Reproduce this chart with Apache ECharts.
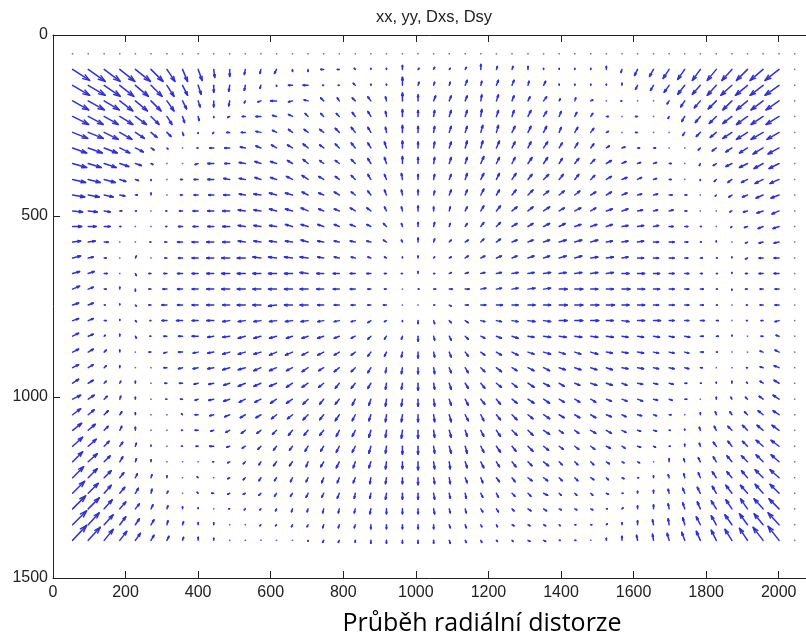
<!DOCTYPE html>
<html><head><meta charset="utf-8">
<script src="https://cdn.jsdelivr.net/npm/echarts@6/dist/echarts.min.js"></script>
</head>
<body style="margin:0;background:#fff">
<div id="chart" style="width:806px;height:637px"></div>
<script>
// grid point positions (data units): 47 columns, 32 rows
const xs = [54,97,141,184,227,270,314,357,400,443,487,530,573,616,660,703,746,789,833,876,919,963,1006,1049,1092,1136,1179,1222,1265,1309,1352,1395,1438,1482,1525,1568,1611,1655,1698,1741,1784,1828,1871,1914,1957,2001,2044];
const ys = [52,95,139,182,225,269,312,355,399,442,486,529,572,616,659,702,746,789,832,876,919,962,1006,1049,1092,1136,1179,1223,1266,1309,1353,1396];
const xTicks = [0,200,400,600,800,1000,1200,1400,1600,1800,2000];
const yTicks = [0,500,1000,1500];
// Dxs (rows 1..31, columns 0..45)
const Dxs = [
[17,17,16,15,15,12,8,5,4,1,0,-1,-1,-2,0,0,-3,-2,-1,0,0,0,1,1,1,1,0,1,1,0,0,0,0,0,0,-1,-3,-4,-6,-7,-8,-9,-10,-11,-13,-14],
[17,17,16,14,13,11,7,5,3,0,-1,-1,-1,0,-4,-5,-1,-1,-2,0,0,0,1,1,1,2,1,2,2,1,2,0,0,0,0,0,-2,-3,-5,-7,-8,-9,-11,-12,-13,-14],
[16,16,15,13,12,10,7,4,2,0,-1,-1,-3,-6,-4,-4,-3,-2,-3,-3,-1,0,0,2,2,2,1,2,2,2,3,1,1,2,0,-1,0,0,-2,-4,-6,-8,-9,-11,-12,-13],
[16,15,14,13,11,8,5,2,1,0,-2,-3,-5,-4,-4,-3,-3,-3,-3,-3,-1,0,0,1,2,2,1,2,2,3,3,2,2,2,2,0,-2,0,-1,-3,-5,-7,-9,-11,-12,-13],
[15,15,14,12,9,6,4,1,0,-1,-3,-4,-5,-4,-4,-4,-4,-4,-4,-3,-1,0,0,1,2,2,2,2,3,3,3,2,3,3,2,0,-2,0,0,-2,-4,-6,-9,-11,-12,-12],
[14,14,13,10,8,3,1,0,-1,-4,-5,-5,-5,-5,-5,-5,-4,-4,-4,-3,-2,0,0,1,2,2,2,3,3,3,4,3,3,3,3,3,2,2,0,0,-2,-4,-6,-8,-10,-11],
[14,13,12,9,6,2,0,0,-3,-6,-5,-6,-6,-6,-5,-5,-4,-4,-4,-3,-2,0,0,1,2,2,3,3,3,4,4,3,4,4,5,4,3,3,2,0,-1,-3,-6,-8,-9,-10],
[13,12,11,6,3,0,0,-2,-4,-6,-6,-6,-6,-6,-6,-6,-5,-4,-4,-3,-2,-1,0,1,2,2,3,3,4,4,5,4,4,4,5,5,4,3,2,0,0,-2,-4,-6,-8,-9],
[12,11,9,5,2,0,0,-2,-4,-5,-6,-6,-7,-7,-7,-6,-5,-5,-4,-3,-2,-1,0,1,2,2,3,3,4,5,5,5,5,5,5,5,4,4,3,2,0,-1,-3,-5,-7,-8],
[10,9,6,2,1,0,-1,-3,-5,-6,-7,-7,-7,-7,-7,-7,-5,-5,-5,-4,-2,-1,0,0,1,2,3,4,5,5,6,5,6,5,6,6,5,4,4,2,0,0,-2,-4,-6,-7],
[9,8,6,1,0,0,-1,-4,-5,-6,-7,-7,-7,-7,-7,-7,-6,-5,-5,-4,-3,-1,0,1,1,2,3,4,5,5,6,6,6,6,6,6,6,5,4,3,1,0,-1,-3,-5,-6],
[8,7,4,0,0,-1,-2,-5,-6,-7,-7,-7,-7,-7,-7,-7,-6,-5,-5,-4,-3,-1,0,1,2,3,3,4,5,5,6,7,7,7,6,6,6,5,5,3,1,0,0,-2,-4,-5],
[8,5,2,0,1,0,-2,-4,-6,-7,-8,-8,-8,-8,-8,-8,-6,-5,-4,-3,-2,0,0,1,2,3,4,5,5,6,6,7,7,7,7,6,6,5,5,3,2,1,0,-2,-4,-5],
[7,6,3,0,1,-2,-3,-5,-6,-7,-8,-8,-8,-8,-8,-8,-7,-6,-5,-4,-2,-1,0,1,2,3,4,5,6,6,7,7,7,7,7,7,7,6,5,4,2,1,0,-2,-4,-5],
[7,5,2,0,0,-2,-4,-5,-6,-7,-8,-8,-8,-8,-8,-8,-7,-6,-5,-3,-2,0,1,2,3,4,5,5,6,7,7,8,8,7,7,8,7,6,5,4,3,1,0,-2,-3,-4],
[6,5,1,0,1,-2,-5,-5,-6,-7,-7,-8,-8,-8,-8,-8,-6,-5,-4,-3,-3,0,0,1,2,3,5,6,6,7,7,8,8,8,8,7,7,5,5,4,3,1,0,-1,-3,-4],
[6,5,2,0,1,-1,-5,-6,-6,-7,-7,-7,-7,-7,-7,-7,-6,-5,-4,-3,-2,0,0,1,2,3,4,5,6,7,7,8,8,8,7,7,7,7,5,4,4,2,0,-1,-2,-4],
[6,5,1,0,1,-1,-3,-4,-6,-6,-7,-7,-7,-7,-6,-6,-6,-5,-4,-3,-2,-1,0,1,2,3,4,5,6,6,7,7,7,7,7,6,6,6,5,5,3,2,0,0,-2,-3],
[6,5,2,0,0,-2,-3,-4,-5,-6,-7,-7,-7,-7,-7,-6,-6,-5,-4,-3,-2,-1,0,1,2,3,4,5,6,6,7,6,6,7,6,6,6,5,5,4,3,1,0,0,-3,-4],
[6,5,2,0,0,0,-3,-4,-5,-6,-7,-7,-7,-7,-6,-6,-5,-5,-4,-3,-1,-1,0,1,2,3,4,5,5,6,6,6,6,6,6,6,6,5,5,4,2,0,0,-1,-3,-5],
[6,5,2,1,0,0,-2,-3,-4,-5,-6,-7,-7,-7,-6,-6,-5,-4,-4,-3,-1,-1,0,1,2,3,4,5,5,6,6,5,5,6,6,5,5,4,4,2,1,0,0,-1,-3,-5],
[8,6,3,1,0,0,-1,-2,-3,-5,-6,-6,-6,-6,-6,-5,-4,-4,-3,-2,-1,-1,0,1,2,3,4,4,5,6,6,5,5,5,5,5,5,4,3,2,0,0,-1,-2,-4,-6],
[8,6,4,2,0,0,0,-1,-3,-4,-5,-5,-5,-5,-5,-5,-4,-4,-3,-2,-1,-1,0,1,2,3,3,4,5,5,6,5,5,5,5,4,4,3,2,0,0,-1,-2,-3,-5,-6],
[9,7,4,2,0,0,0,-1,-3,-3,-4,-4,-4,-4,-4,-4,-4,-3,-3,-2,-1,-1,0,1,2,2,3,4,5,5,6,4,4,5,5,4,3,3,1,0,-1,-2,-4,-5,-6,-7],
[10,8,5,3,1,0,0,-1,-2,-4,-3,-3,-3,-3,-3,-3,-3,-3,-3,-2,-1,0,0,1,2,2,3,4,4,5,5,4,4,4,4,3,3,2,1,0,-1,-3,-4,-5,-7,-8],
[10,9,6,3,1,0,0,0,0,-1,-2,-2,-2,-3,-3,-2,-3,-3,-2,-2,-1,0,0,1,1,2,3,3,4,4,5,3,3,3,3,2,2,0,0,-1,-2,-3,-5,-6,-7,-8],
[11,9,7,4,2,1,0,0,-1,0,-2,-2,-2,-2,-2,-2,-2,-2,-2,-1,-1,0,0,1,1,2,2,3,3,4,4,3,3,3,2,2,1,0,-1,-1,-2,-4,-5,-6,-8,-9],
[12,10,7,5,3,1,1,0,-1,-2,-2,-2,-2,-2,-2,-2,-2,-2,-1,-1,-1,0,0,1,1,1,2,2,3,3,4,2,2,2,2,1,0,0,-1,-2,-3,-4,-6,-7,-8,-9],
[13,11,8,6,4,2,1,0,0,0,-1,-1,-1,-1,-1,-1,-1,-1,-1,-1,0,0,0,1,1,1,2,2,2,3,3,2,2,2,1,1,0,0,-1,-2,-3,-5,-6,-7,-9,-10],
[14,11,9,6,4,3,1,1,0,0,0,0,-1,-1,-1,-1,-1,-1,-1,0,0,0,0,0,1,1,1,1,2,2,2,1,1,1,1,0,0,-1,-1,-2,-4,-5,-7,-8,-9,-11],
[14,12,9,7,5,3,2,1,0,0,0,0,0,0,0,0,-1,-1,0,0,0,0,0,0,1,1,1,1,1,2,2,1,1,0,0,0,-1,-1,-2,-3,-4,-5,-7,-8,-10,-11]
];
// Dsy (rows 1..31, columns 0..45), positive = downward in the picture
const Dsy = [
[11,12,12,12,12,12,12,12,11,8,7,5,4,4,2,2,0,0,-1,-1,-1,-4,-1,-2,-1,-2,-5,-3,-3,-3,-1,-1,-1,-1,-3,3,6,7,9,10,11,11,11,11,11,11],
[10,10,11,11,11,11,11,10,9,7,6,5,3,1,0,0,0,0,-2,-1,-1,-8,-3,-3,-3,-5,-4,-5,-5,-4,-4,-1,-1,-1,-1,-2,4,5,7,9,9,10,10,10,10,10],
[9,9,9,10,10,10,10,8,6,6,5,2,1,0,1,-1,-3,-3,-3,-4,-4,-8,-6,-5,-5,-5,-6,-6,-5,-4,-4,-2,-3,-1,0,0,0,0,3,6,7,8,9,9,9,9],
[8,8,8,8,8,8,8,6,4,1,1,0,0,-1,-2,-3,-3,-3,-4,-5,-5,-7,-6,-6,-6,-6,-7,-6,-6,-6,-5,-5,-4,-3,0,0,0,0,2,5,6,7,7,8,8,8],
[6,6,7,7,6,5,4,3,1,1,0,0,-1,-2,-3,-3,-3,-4,-5,-5,-5,-7,-6,-6,-6,-6,-7,-7,-6,-6,-6,-5,-5,-4,-1,0,0,0,0,3,4,5,6,7,7,7],
[5,5,5,5,4,2,1,0,0,0,0,-1,-2,-3,-3,-4,-3,-4,-5,-5,-6,-7,-6,-6,-6,-7,-7,-7,-6,-6,-6,-5,-5,-4,-2,-1,0,0,0,0,2,3,4,5,6,6],
[4,4,4,3,2,1,0,0,1,0,0,-1,-2,-2,-3,-4,-3,-3,-4,-5,-6,-7,-6,-6,-6,-6,-7,-6,-6,-6,-6,-5,-5,-4,-3,-2,-1,-1,0,0,2,2,3,4,5,5],
[3,3,3,2,1,1,0,0,0,0,-1,-1,-2,-2,-3,-4,-3,-3,-4,-5,-5,-6,-5,-5,-5,-6,-6,-6,-6,-5,-5,-5,-5,-4,-3,-2,-2,-1,0,0,1,2,3,3,4,4],
[2,2,2,1,0,-2,0,0,0,0,0,-1,-1,-2,-2,-3,-2,-3,-3,-4,-5,-5,-5,-4,-5,-5,-6,-5,-5,-5,-4,-4,-4,-3,-3,-2,-1,-1,0,0,0,1,2,2,3,3],
[1,1,1,0,0,0,0,0,0,0,0,-1,-1,-2,-2,-3,-2,-2,-3,-3,-4,-4,-5,-4,-4,-4,-5,-5,-4,-4,-4,-3,-3,-3,-2,-2,-1,-1,-1,0,0,0,1,1,2,3],
[0,0,0,0,0,0,0,0,0,0,0,-1,-1,-1,-2,-2,-2,-2,-2,-2,-3,-3,-4,-4,-3,-3,-4,-4,-3,-3,-3,-3,-2,-2,-2,-1,-1,-1,0,0,0,0,1,1,2,2],
[-1,-1,0,0,0,0,0,0,0,0,0,-1,-1,-1,-1,-2,-1,-1,-1,-1,-2,-2,-4,-3,-2,-2,-3,-3,-2,-2,-2,-2,-2,-2,-1,-1,-1,0,0,0,0,-1,0,1,1,1],
[-2,-1,0,0,-2,0,0,0,0,0,0,0,-1,-1,-1,-1,-1,-1,-1,-1,-1,-1,-2,-1,-1,-2,-2,-2,-2,-2,-2,-2,-2,-1,-1,-1,0,0,0,0,0,0,-1,1,0,0],
[-2,-2,0,0,2,0,0,0,0,0,0,0,0,0,0,-1,0,0,0,0,0,0,-2,0,-1,-1,-1,-1,-1,-1,-1,-1,-1,-1,-1,0,0,0,0,0,0,0,-1,0,0,0],
[-3,-2,0,-2,2,0,0,0,0,0,0,0,0,0,0,0,0,0,0,0,0,0,0,0,0,0,-1,-1,-1,-1,-1,0,0,0,0,0,0,0,0,0,0,0,1,0,0,0],
[-2,-2,0,-1,1,0,0,0,0,0,0,0,0,1,0,0,0,0,0,0,0,0,0,0,1,0,0,0,0,0,0,0,0,0,0,0,0,0,0,0,0,0,0,0,0,0],
[-2,-2,0,-1,1,0,0,0,0,0,1,1,1,1,1,1,1,1,1,2,1,1,3,3,2,2,1,1,1,1,1,0,0,0,0,1,0,0,0,0,0,0,0,0,0,1],
[-3,-2,-1,-2,2,0,0,0,0,1,1,2,2,2,2,2,2,2,2,3,3,3,5,4,4,3,2,2,2,1,1,1,1,1,1,1,1,1,1,1,0,0,-1,0,0,-1],
[-3,-3,-2,-2,0,0,1,0,1,1,2,2,2,3,3,3,3,3,3,4,4,5,6,5,5,4,3,3,3,2,2,2,2,2,1,1,1,1,1,1,0,0,0,0,-1,-2],
[-3,-3,-2,-2,0,0,0,1,1,1,2,2,3,3,3,4,3,4,4,5,5,6,6,6,5,5,4,4,3,3,3,2,2,2,2,1,1,1,1,1,0,0,0,0,-1,-2],
[-4,-3,-2,-2,-2,0,0,0,1,1,2,3,3,3,4,4,4,5,5,5,6,6,7,6,6,5,5,4,4,4,3,3,2,2,2,2,1,1,1,0,0,-1,-2,-1,-2,-3],
[-4,-4,-3,-3,-2,0,0,0,1,1,2,3,3,4,4,5,5,5,6,6,7,7,7,7,6,6,5,5,4,4,4,3,3,3,2,2,2,1,1,0,0,-2,-2,-2,-3,-4],
[-6,-5,-4,-3,-2,0,0,-1,0,1,2,3,3,4,4,5,5,6,6,6,7,7,7,7,7,6,6,5,5,4,4,3,3,3,2,2,1,1,0,0,-2,-3,-3,-3,-4,-4],
[-7,-6,-4,-4,-3,0,0,0,0,1,2,3,3,4,5,5,5,6,6,7,7,8,8,7,7,6,6,6,5,5,4,3,3,3,3,2,1,1,0,-1,-3,-4,-4,-5,-5,-5],
[-9,-7,-5,-4,-3,-1,0,0,0,0,1,2,3,4,4,5,5,6,6,7,7,8,8,7,7,7,6,6,5,5,4,3,3,3,2,2,1,1,0,-2,-3,-4,-5,-5,-6,-6],
[-10,-8,-6,-5,-3,-2,0,0,0,0,1,2,3,4,4,5,5,6,6,6,7,7,8,7,7,6,6,5,5,4,4,3,3,3,2,1,1,0,-3,-3,-4,-5,-6,-6,-7,-7],
[-11,-9,-7,-5,-4,-3,-2,0,-1,0,1,2,3,3,4,4,5,5,5,6,6,6,7,6,6,5,5,4,4,3,3,3,3,2,2,1,0,-2,-3,-4,-5,-6,-6,-7,-8,-8],
[-12,-10,-8,-6,-5,-4,-2,0,-1,0,1,1,2,3,3,4,4,5,5,5,6,6,6,6,5,5,4,4,3,3,2,2,2,2,1,0,-2,-3,-4,-5,-6,-7,-8,-8,-9,-9],
[-13,-11,-9,-7,-5,-4,-3,-2,-1,0,0,1,1,2,3,3,4,4,4,5,5,5,5,5,4,4,3,3,2,2,2,1,1,1,0,-1,-3,-4,-5,-6,-7,-8,-9,-10,-10,-10],
[-14,-12,-10,-8,-6,-5,-4,-3,-2,-2,0,0,1,1,2,2,3,3,3,4,4,4,4,4,3,3,2,2,1,1,1,1,0,0,-1,-2,-4,-5,-6,-7,-8,-9,-10,-11,-11,-12],
[-15,-13,-11,-9,-7,-5,-4,-3,-3,-2,0,0,0,0,0,1,2,2,2,3,3,3,3,3,3,2,2,1,1,1,1,0,0,0,-2,-4,-5,-6,-7,-8,-9,-10,-11,-12,-13,-14]
];
const QUIVER_SCALE = 2.76; // data units per vector unit (quiver autoscale)

const arrows = [];
for (let r = 0; r < Dxs.length; r++) {
  for (let c = 0; c < Dxs[r].length; c++) {
    arrows.push([xs[c], ys[r + 1], Dxs[r][c], Dsy[r][c]]);
  }
}
// border grid points with no displacement (row 0 and last column)
const zeros = [];
for (let c = 0; c < xs.length; c++) zeros.push([xs[c], ys[0], 0, 0]);
for (let r = 1; r < ys.length; r++) zeros.push([xs[xs.length - 1], ys[r], 0, 0]);

const BLUE = 'rgb(48,48,215)';
function makeRender(color, lw) {
  return function (params, api) {
    const x = api.value(0), y = api.value(1);
    const u = api.value(2) * QUIVER_SCALE, v = api.value(3) * QUIVER_SCALE;
    const p0 = api.coord([x, y]);
    if (u === 0 && v === 0) {
      return { type: 'rect', shape: { x: p0[0] - 0.75, y: p0[1] - 0.75, width: 1.5, height: 1.5 }, style: { fill: color, opacity: 0.8 } };
    }
    const p1 = api.coord([x + u, y + v]);
    const a = 0.33, b = 0.33;
    const h1 = api.coord([x + u - a * (u + b * v), y + v - a * (v - b * u)]);
    const h2 = api.coord([x + u - a * (u - b * v), y + v - a * (v + b * u)]);
    return {
      type: 'group',
      children: [
        { type: 'polyline', shape: { points: [p0, p1] }, style: { stroke: color, lineWidth: lw, fill: null, lineCap: 'round' } },
        { type: 'polyline', shape: { points: [h1, p1, h2] }, style: { stroke: color, lineWidth: lw, fill: null, lineJoin: 'round', lineCap: 'round' } }
      ]
    };
  };
}

const chart = echarts.init(document.getElementById('chart'), null, { renderer: 'canvas' });
const axisFont = { fontFamily: 'Liberation Sans, Arial, sans-serif', fontSize: 16, color: '#222' };
const tickStyle = { show: true, inside: true, length: 7, lineStyle: { color: '#222' } };
const plain = v => String(v);
chart.setOption({
  animation: false,
  backgroundColor: '#fff',
  grid: { left: 53, top: 35, width: 762, height: 543, containLabel: false, outerBoundsMode: 'none' },
  xAxis: [
    { type: 'value', min: 0, max: 2100, interval: 200, position: 'bottom',
      axisLine: { show: true, onZero: false, lineStyle: { color: '#222', width: 1 } },
      axisTick: Object.assign({ customValues: xTicks }, tickStyle),
      axisLabel: Object.assign({ margin: 7, customValues: xTicks, formatter: plain }, axisFont),
      splitLine: { show: false } },
    { type: 'value', min: 0, max: 2100, interval: 200, position: 'top',
      axisLine: { show: true, onZero: false, lineStyle: { color: '#222', width: 1 } },
      axisTick: Object.assign({ customValues: xTicks }, tickStyle),
      axisLabel: { show: false }, splitLine: { show: false } }
  ],
  yAxis: [
    { type: 'value', min: 0, max: 1500, interval: 500, inverse: true, position: 'left',
      axisLine: { show: true, onZero: false, lineStyle: { color: '#222', width: 1 } },
      axisTick: Object.assign({ customValues: yTicks }, tickStyle),
      axisLabel: Object.assign({ margin: 5, customValues: yTicks, formatter: plain }, axisFont),
      splitLine: { show: false } }
  ],
  series: [
    { type: 'custom', coordinateSystem: 'cartesian2d', xAxisIndex: 0, yAxisIndex: 0,
      renderItem: makeRender(BLUE, 1.5), data: arrows, silent: true },
    { type: 'custom', coordinateSystem: 'cartesian2d', xAxisIndex: 0, yAxisIndex: 0,
      renderItem: makeRender('#555', 1), data: zeros, silent: true }
  ],
  graphic: [
    { type: 'text', x: 434, y: 17, style: { text: 'xx, yy, Dxs, Dsy', font: '16.5px "Liberation Sans", Arial, sans-serif', fill: '#222', textAlign: 'center', textVerticalAlign: 'middle' } },
    { type: 'text', x: 482, y: 624, style: { text: 'Průběh radiální distorze', font: '25px "Open Sans", sans-serif', fill: '#000', textAlign: 'center', textVerticalAlign: 'middle' } }
  ]
});
</script>
</body></html>
